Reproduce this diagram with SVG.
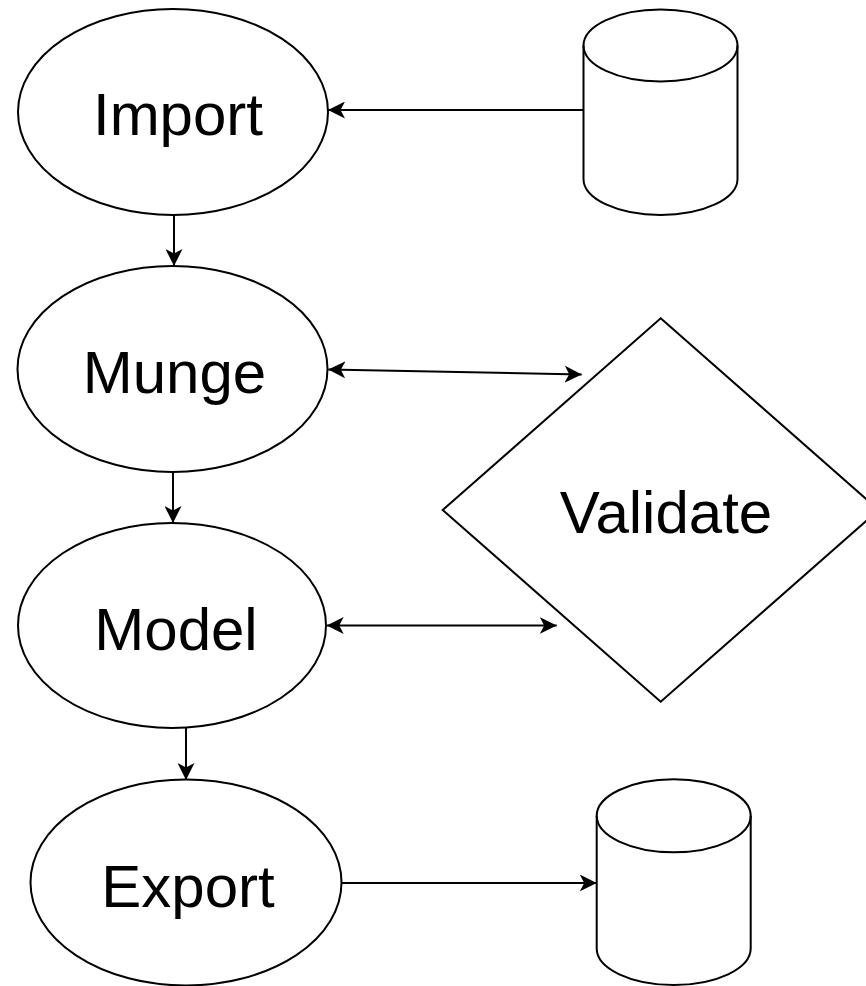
<svg xmlns="http://www.w3.org/2000/svg" width="866" height="986" viewBox="0 0 866 986">
  <style>
    .shape { fill: #ffffff; stroke: #000000; stroke-width: 2; }
    .edge { fill: none; stroke: #000000; stroke-width: 2; }
    .label { font-family: "Liberation Sans", Arial, Helvetica, sans-serif; font-size: 60px; fill: #000000; text-anchor: middle; }
  </style>
  <defs>
    <marker id="arrow" markerUnits="userSpaceOnUse" markerWidth="18" markerHeight="17" refX="17" refY="8.5" orient="auto-start-reverse" viewBox="0 0 18 17">
      <path d="M17,8.5 L0,0 L4.5,8.5 L0,17 Z" fill="#000000" stroke="none"/>
    </marker>
  </defs>
  <rect width="866" height="986" fill="#ffffff"/>

  <g id="connectors">
    <line class="edge" x1="583.5" y1="110" x2="328" y2="110" marker-end="url(#arrow)"/>
    <line class="edge" x1="174" y1="215" x2="174" y2="266" marker-end="url(#arrow)"/>
    <line class="edge" x1="328.3" y1="369.5" x2="581.7" y2="374.5" marker-start="url(#arrow)" marker-end="url(#arrow)"/>
    <line class="edge" x1="173" y1="472" x2="173" y2="523" marker-end="url(#arrow)"/>
    <line class="edge" x1="326.7" y1="625.5" x2="556.7" y2="625.5" marker-start="url(#arrow)" marker-end="url(#arrow)"/>
    <line class="edge" x1="186" y1="728" x2="186" y2="780" marker-end="url(#arrow)"/>
    <line class="edge" x1="341.7" y1="883" x2="596.7" y2="883" marker-end="url(#arrow)"/>
  </g>

  <g id="import">
    <ellipse class="shape" cx="173" cy="112" rx="155" ry="103"/>
    <text class="label" x="178" y="135">Import</text>
  </g>

  <g id="source-db">
    <path class="shape" d="M583.5,45.5 A77,36 0 0 1 737.5,45.5 L737.5,179 A77,36 0 0 1 583.5,179 Z"/>
    <path class="edge" d="M583.5,45.5 A77,36 0 0 0 737.5,45.5"/>
  </g>

  <g id="munge">
    <ellipse class="shape" cx="172.5" cy="369" rx="155" ry="103"/>
    <text class="label" x="174.5" y="393">Munge</text>
  </g>

  <g id="validate">
    <polygon class="shape" points="660.7,318.3 878.7,510 660.7,701.7 442.7,510"/>
    <text class="label" x="666" y="533">Validate</text>
  </g>

  <g id="model">
    <ellipse class="shape" cx="172" cy="625.5" rx="154" ry="102.5"/>
    <text class="label" x="176" y="650">Model</text>
  </g>

  <g id="export">
    <ellipse class="shape" cx="186" cy="882.5" rx="155.5" ry="103"/>
    <text class="label" x="188" y="907">Export</text>
  </g>

  <g id="target-db">
    <path class="shape" d="M596.7,815.8 A77,36.5 0 0 1 750.7,815.8 L750.7,948.5 A77,36.5 0 0 1 596.7,948.5 Z"/>
    <path class="edge" d="M596.7,815.8 A77,36.5 0 0 0 750.7,815.8"/>
  </g>
</svg>
